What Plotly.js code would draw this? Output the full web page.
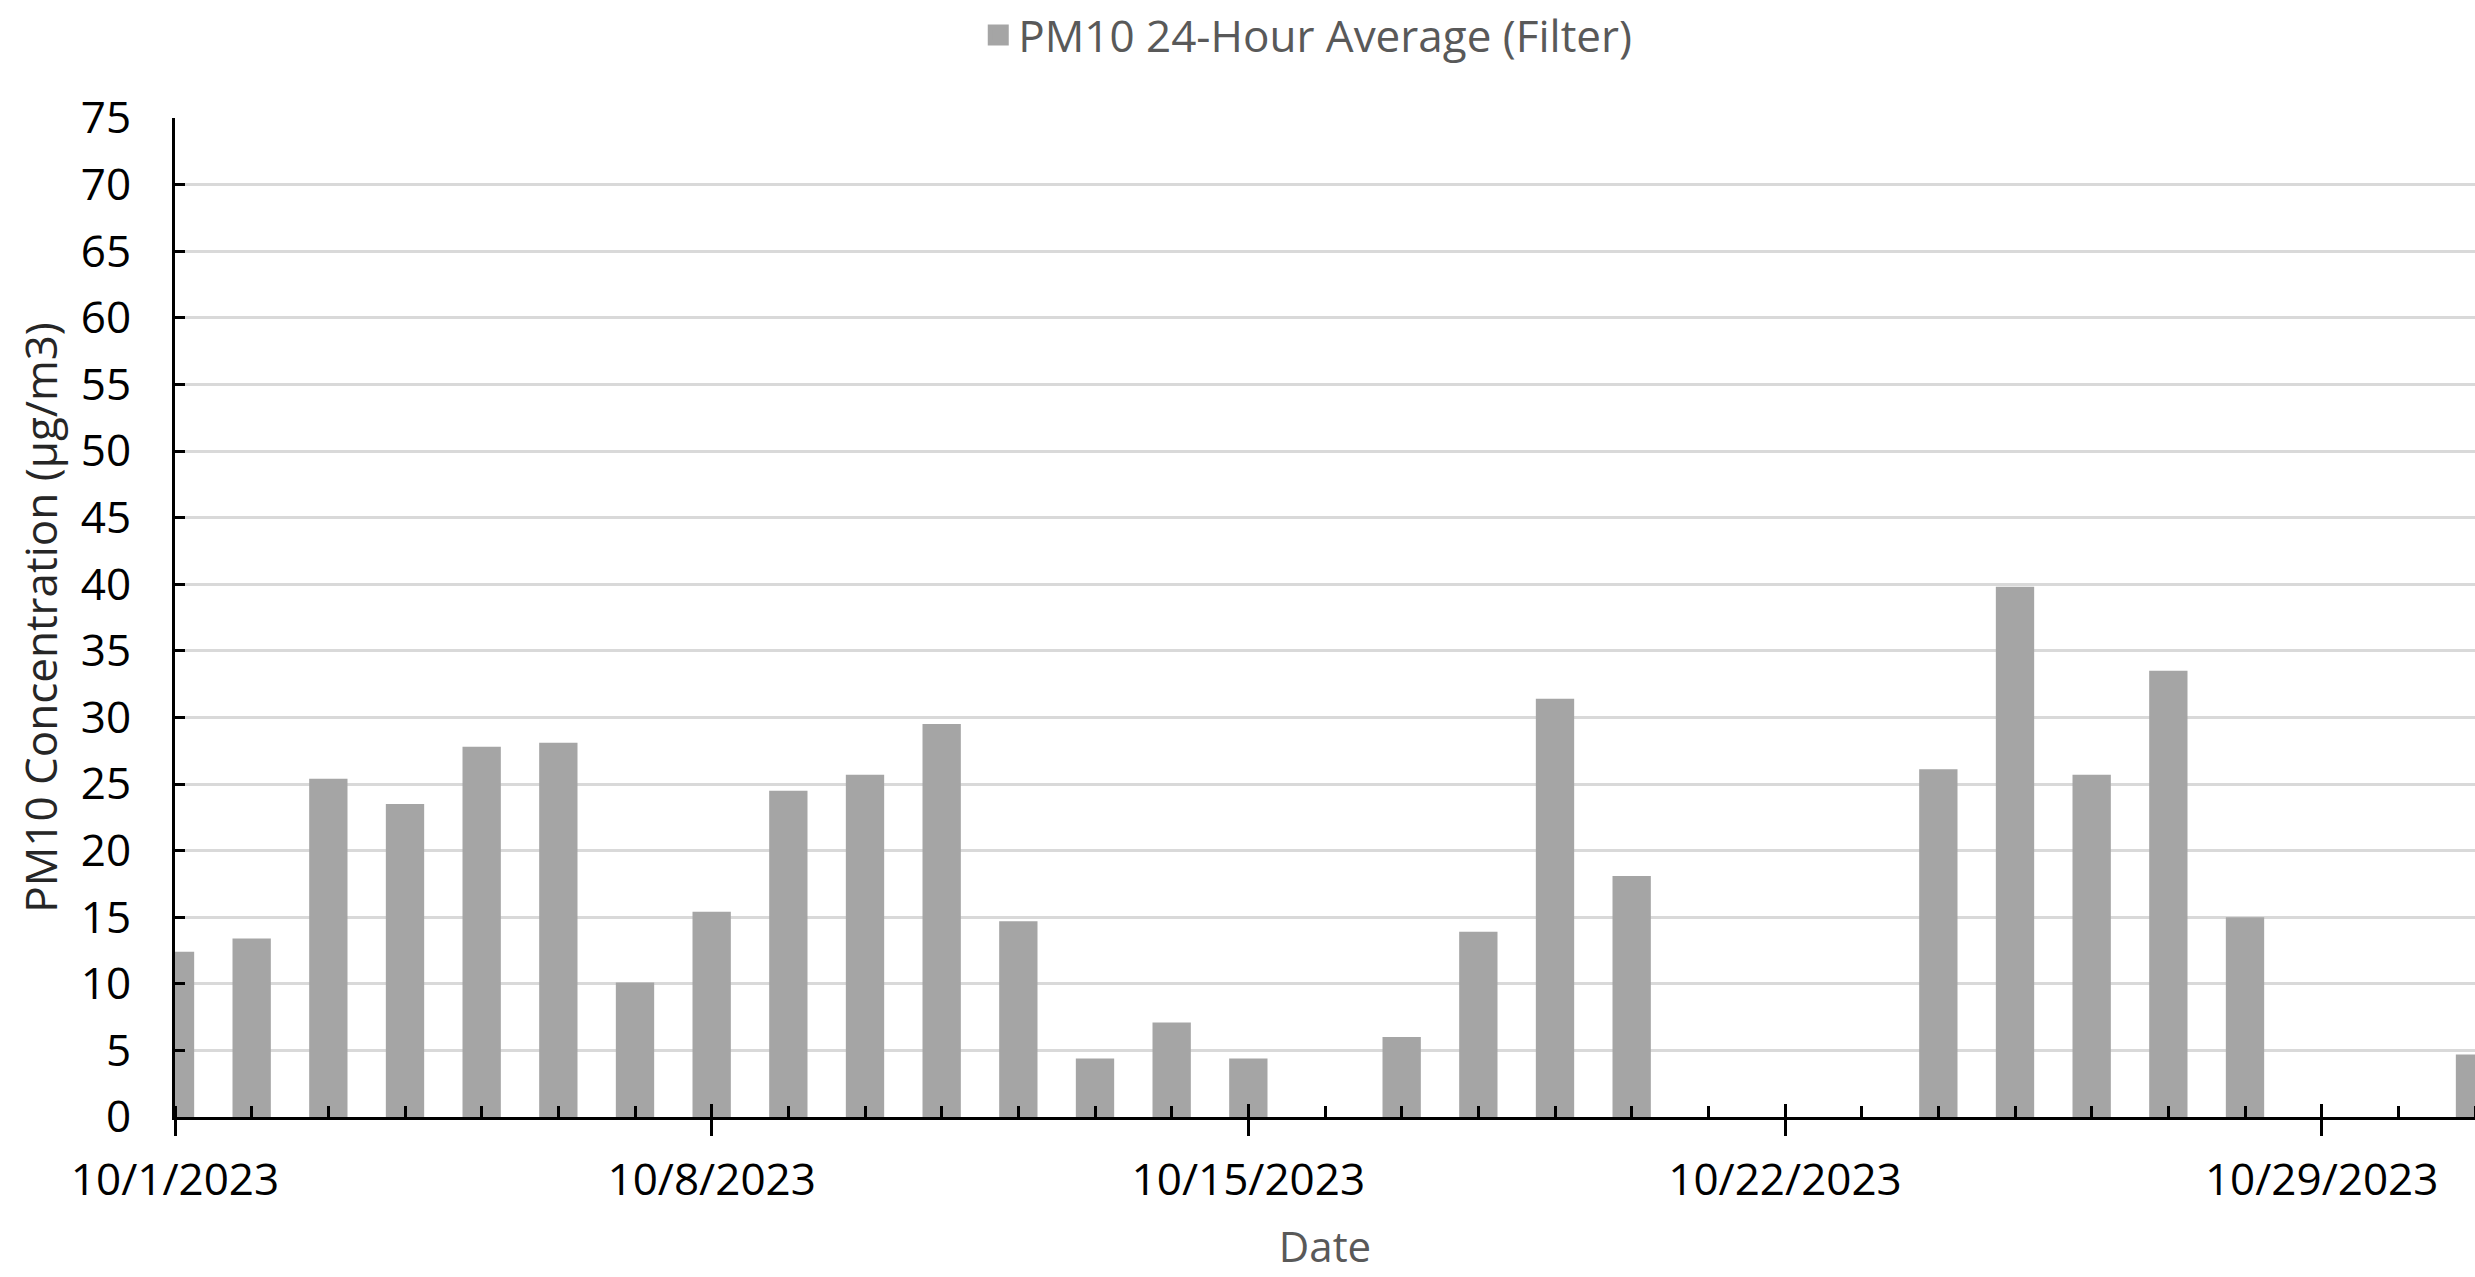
<!DOCTYPE html>
<html>
<head>
<meta charset="utf-8">
<script src="https://cdn.plot.ly/plotly-3.0.1.min.js"></script>
<style>html,body{margin:0;padding:0;background:#fff;}#chart{width:2475px;height:1277px;}</style>
</head>
<body>
<div id="chart"></div>
<script>
// Data
const dates = [
  "2023-10-01","2023-10-02","2023-10-03","2023-10-04","2023-10-05","2023-10-06","2023-10-07",
  "2023-10-08","2023-10-09","2023-10-10","2023-10-11","2023-10-12","2023-10-13","2023-10-14",
  "2023-10-15","2023-10-17","2023-10-18","2023-10-19","2023-10-20",
  "2023-10-24","2023-10-25","2023-10-26","2023-10-27","2023-10-28","2023-10-31"
];
const pm10 = [
  12.4, 13.4, 25.4, 23.5, 27.8, 28.1, 10.1,
  15.4, 24.5, 25.7, 29.5, 14.7, 4.4, 7.1,
  4.4, 6.0, 13.9, 31.4, 18.1,
  26.1, 39.8, 25.7, 33.5, 15.0, 4.7
];
const seriesName = "PM10 24-Hour Average (Filter)";
const tickDates = ["2023-10-01","2023-10-08","2023-10-15","2023-10-22","2023-10-29"];
const tickLabels = ["10/1/2023","10/8/2023","10/15/2023","10/22/2023","10/29/2023"];
const xRange = ["2023-10-01","2023-10-31"];
const yTitle = "PM10 Concentration (µg/m3)";
const xTitle = "Date";

const DAY = 86400000;
const FONT = "'Open Sans', Lato, sans-serif";
const BAR_COLOR = "#A5A5A5";

const traces = [
  {
    type: "bar",
    x: dates,
    y: pm10,
    name: seriesName,
    width: 0.5 * DAY,
    marker: {color: BAR_COLOR},
    showlegend: false,
    hoverinfo: "x+y"
  },
  {
    // legend entry only (larger square swatch)
    type: "scatter",
    mode: "markers",
    x: [null],
    y: [null],
    name: seriesName,
    marker: {symbol: "square", size: 25, color: BAR_COLOR, line: {color: BAR_COLOR, width: 5}},
    showlegend: true,
    hoverinfo: "skip"
  },
  {
    type: "scatter",
    x: [],
    y: [],
    xaxis: "x2",
    showlegend: false,
    hoverinfo: "skip"
  }
];

const layout = {
  width: 2475,
  height: 1277,
  paper_bgcolor: "#ffffff",
  plot_bgcolor: "#ffffff",
  margin: {l: 175, r: 0, t: 118, b: 160, pad: 0},
  font: {family: FONT, color: "#000000", size: 44},
  showlegend: true,
  legend: {
    orientation: "h",
    x: 0.4925,
    xanchor: "center",
    yref: "container",
    y: 1.0,
    yanchor: "top",
    font: {family: FONT, size: 44, color: "#595959"},
    itemwidth: 30,
    bgcolor: "rgba(0,0,0,0)"
  },
  xaxis: {
    type: "date",
    range: xRange,
    tickmode: "array",
    tickvals: tickDates,
    ticktext: tickLabels,
    ticks: "outside",
    ticklen: 16,
    tickwidth: 3,
    tickcolor: "#000000",
    ticklabelstandoff: 6,
    tickfont: {family: FONT, size: 44, color: "#000000"},
    showline: true,
    linecolor: "#000000",
    linewidth: 3,
    showgrid: false,
    zeroline: false,
    minor: {
      dtick: DAY,
      tick0: "2023-10-01",
      ticks: "inside",
      ticklen: 11,
      tickwidth: 3,
      tickcolor: "#000000",
      showgrid: false
    },
    title: {
      text: xTitle,
      font: {family: FONT, size: 42, color: "#595959"},
      standoff: 26
    }
  },
  xaxis2: {
    type: "date",
    overlaying: "x",
    matches: "x",
    range: xRange,
    side: "bottom",
    tickmode: "array",
    tickvals: tickDates,
    ticktext: tickLabels,
    showticklabels: false,
    ticks: "inside",
    ticklen: 13,
    tickwidth: 3,
    tickcolor: "#000000",
    showline: false,
    showgrid: false,
    zeroline: false
  },
  yaxis: {
    range: [0, 75],
    dtick: 5,
    tick0: 0,
    ticks: "inside",
    ticklen: 10,
    tickwidth: 3,
    tickcolor: "#000000",
    ticklabelstandoff: 32,
    tickfont: {family: FONT, size: 44, color: "#000000"},
    showline: true,
    linecolor: "#000000",
    linewidth: 3,
    showgrid: true,
    gridcolor: "#D9D9D9",
    gridwidth: 3,
    zeroline: false,
    title: {
      text: yTitle,
      font: {family: FONT, size: 44, color: "#262626"},
      standoff: 10
    }
  }
};

Plotly.newPlot("chart", traces, layout, {displayModeBar: false, staticPlot: true});
</script>
</body>
</html>
